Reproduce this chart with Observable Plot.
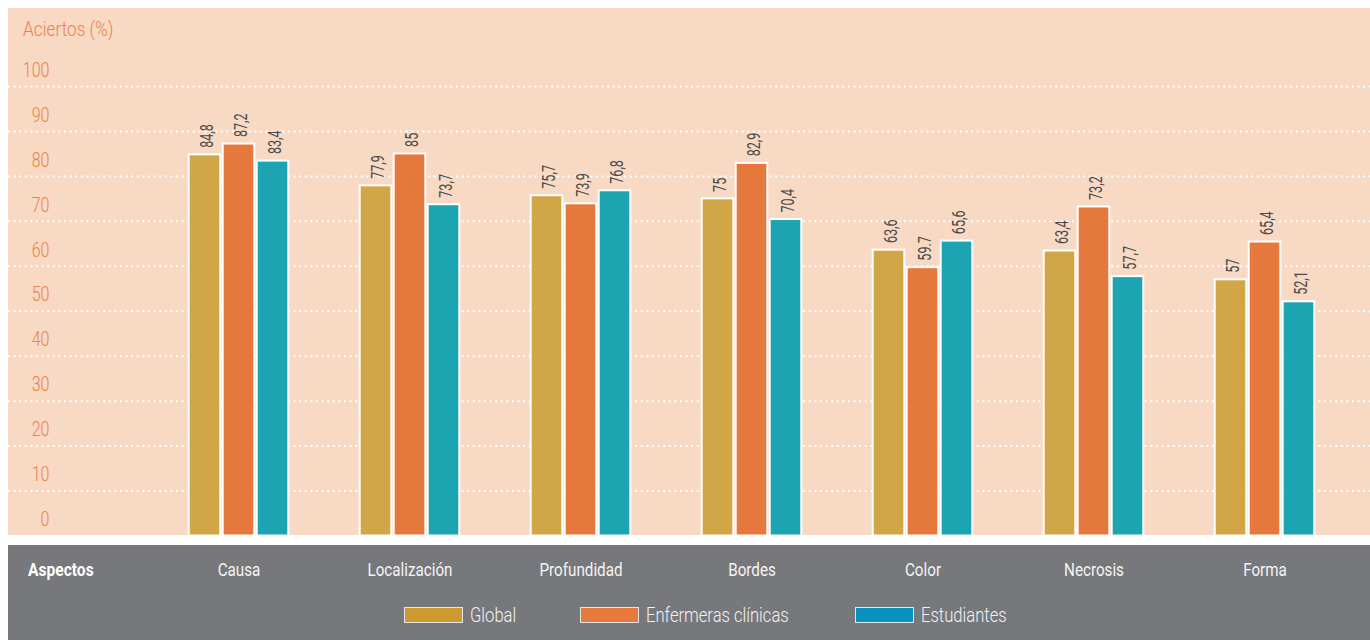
<!DOCTYPE html>
<html>
<head>
<meta charset="utf-8">
<script src="https://cdn.jsdelivr.net/npm/d3@7"></script>
<script src="https://cdn.jsdelivr.net/npm/@observablehq/plot@0.6"></script>
<style>
  html, body { margin: 0; padding: 0; background: #ffffff; }
  #wrap { position: relative; width: 1370px; height: 640px; overflow: hidden;
          font-family: Roboto, "Noto Sans", sans-serif; }
  #panel { position: absolute; left: 8px; top: 8px; width: 1362px; height: 527px; background: #F8D9C3; }
  #band { position: absolute; left: 8px; top: 545px; width: 1362px; height: 95px; background: #77787B; }
  #chart { position: absolute; left: 0; top: 0; }
  .cond { display: inline-block; transform: scaleX(0.82); transform-origin: left center; white-space: nowrap; }
  #ytitle { position: absolute; left: 23px; top: 17px; font-size: 21px; color: #E8834A; font-weight: 300; }
  #xtitle { position: absolute; left: 28px; top: 558px; font-size: 19px; color: #ffffff; font-weight: bold; }
  #legend { position: absolute; top: 604px; left: 0; width: 1370px; height: 22px; }
  .item { position: absolute; top: 0; height: 22px; }
  .sw { position: absolute; left: 0; top: 3px; width: 57px; height: 14px; border: 1px solid #e6e6e6; }
  .lt { position: absolute; left: 66px; top: -1px; color: #f2f2f2; font-size: 20px; font-weight: 300; }
  .lt .cond { transform: scaleX(0.83); }
</style>
</head>
<body>
<div id="wrap">
  <div id="panel"></div>
  <div id="band"></div>
  <div id="chart"></div>
  <div id="ytitle"><span class="cond">Aciertos (%)</span></div>
  <div id="xtitle"><span class="cond">Aspectos</span></div>
  <div id="legend"></div>
</div>
<script>
const aspectos = ["Causa", "Localización", "Profundidad", "Bordes", "Color", "Necrosis", "Forma"];
const series = ["Global", "Enfermeras clínicas", "Estudiantes"];
const global = [84.8, 77.9, 75.7, 75, 63.6, 63.4, 57];
const enfermeras = [87.2, 85, 73.9, 82.9, 59.7, 73.2, 65.4];
const estudiantes = [83.4, 73.7, 76.8, 70.4, 65.6, 57.7, 52.1];
const labelsGlobal = ["84,8", "77,9", "75,7", "75", "63,6", "63,4", "57"];
const labelsEnfermeras = ["87,2", "85", "73,9", "82,9", "59.7", "73,2", "65,4"];
const labelsEstudiantes = ["83,4", "73,7", "76,8", "70,4", "65,6", "57,7", "52,1"];
const yTicks = [0, 10, 20, 30, 40, 50, 60, 70, 80, 90, 100];
const barColors = ["#D1A647", "#E5793D", "#1CA5B0"];
const legendColors = ["#CC9A2E", "#E87A3C", "#0791BE"];

const seriesValues = [global, enfermeras, estudiantes];
const seriesLabels = [labelsGlobal, labelsEnfermeras, labelsEstudiantes];
const offsets = [-34, 0, 34];

const rows = seriesValues.map((vals, s) => aspectos.map((a, i) => ({aspecto: a, valor: vals[i], label: seriesLabels[s][i]})));

const W = 1370, H = 640;
const bandLeft = 151.3, bandRight = 1351;
const bw = (bandRight - bandLeft) / aspectos.length;
const barW = 32;
const inset = (bw - barW) / 2;
const fontFam = 'Roboto, "Noto Sans", sans-serif';

const marks = [
  Plot.ruleY(yTicks.filter(t => t > 0), {stroke: "#ffffff", strokeWidth: 2, strokeDasharray: "2 3.6"}),
];
rows.forEach((data, s) => {
  marks.push(Plot.barY(data, {
    x: "aspecto", y: "valor", fill: barColors[s], stroke: "#ffffff", strokeWidth: 2,
    dx: offsets[s], insetLeft: inset, insetRight: inset
  }));
  marks.push(Plot.text(data, {
    x: "aspecto", y: "valor", text: "label", rotate: -90, textAnchor: "start",
    dx: offsets[s] + 2, dy: -7, fill: "#4a4a4a", fontSize: 18, fontWeight: 400
  }));
});
marks.push(Plot.axisY({ticks: yTicks, tickSize: 0, tickPadding: 0, dx: 41, dy: -16.5, color: "#E8834A", fontSize: 21, fontWeight: 300, label: null, textAnchor: "end"}));
marks.push(Plot.axisX({tickSize: 0, tickPadding: 26, color: "#f4f4f4", fontSize: 19, label: null}));

const plot = Plot.plot({
  width: W, height: H,
  marginLeft: 8, marginRight: 0, marginTop: 86, marginBottom: 104.5,
  x: {type: "band", domain: aspectos, range: [bandLeft, bandRight], padding: 0},
  y: {domain: [0, 100]},
  style: {background: "transparent", fontFamily: fontFam, overflow: "visible"},
  marks
});
document.getElementById("chart").appendChild(plot);

// condense text horizontally (the reference uses a condensed typeface)
plot.querySelectorAll("text").forEach(t => {
  const g = t.closest("g[aria-label]");
  const role = g ? g.getAttribute("aria-label") : "";
  try {
    let target;
    if (role.startsWith("y-axis")) {
      target = t.textContent.length * 8.9;
    } else {
      const L = t.getComputedTextLength();
      target = L * (role.startsWith("x-axis") ? 0.8 : 0.7);
    }
    if (target > 0) {
      t.setAttribute("textLength", target.toFixed(2));
      t.setAttribute("lengthAdjust", "spacingAndGlyphs");
    }
  } catch (e) {}
});

const legendLefts = [404, 580, 855];
const legend = document.getElementById("legend");
series.forEach((name, i) => {
  const it = document.createElement("div");
  it.className = "item";
  it.style.left = legendLefts[i] + "px";
  const sw = document.createElement("div");
  sw.className = "sw";
  sw.style.background = legendColors[i];
  const t = document.createElement("div");
  t.className = "lt";
  t.innerHTML = `<span class="cond">${name}</span>`;
  it.appendChild(sw); it.appendChild(t);
  legend.appendChild(it);
});
</script>
</body>
</html>
